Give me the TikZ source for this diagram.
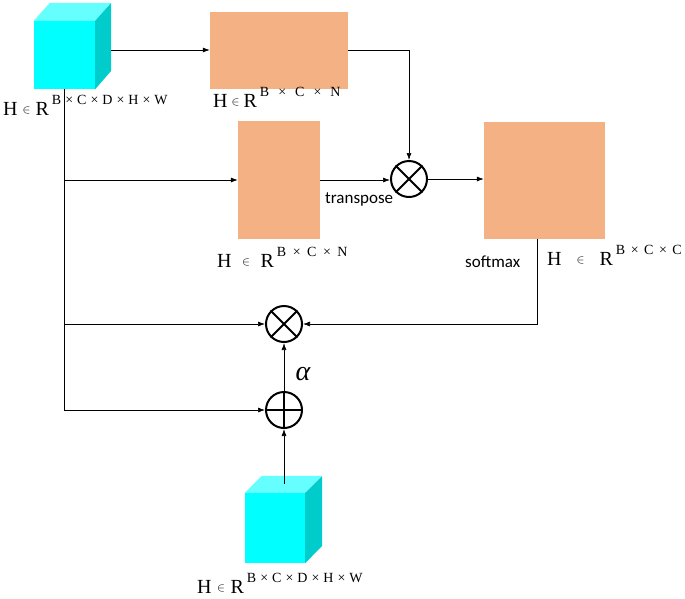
\documentclass[tikz,border=0pt]{standalone}
\usepackage{fontspec}
\setmainfont{Liberation Serif}
\newfontfamily\calibfont{Carlito}
\usetikzlibrary{arrows.meta,calc}
\newcommand{\tms}[1]{\hspace{#1}×\hspace{#1}}
\newcommand{\hlab}[2]{{\fontsize{20}{22}\selectfont H\hspace{#1}\raisebox{2pt}{\fontsize{12}{12}\selectfont$\in$}\hspace{#1}R}\hspace{3pt}\raisebox{11pt}{\fontsize{14}{15}\selectfont #2}}
\definecolor{cyanfront}{HTML}{00FFFF}
\definecolor{cyantop}{HTML}{66FFFF}
\definecolor{cyanside}{HTML}{00CCCC}
\definecolor{peach}{HTML}{F4B183}
\begin{document}
\begin{tikzpicture}[x=1pt,y=-1pt,
  cubefront/.style={fill=cyanfront,inner sep=0pt,draw=none},
  block/.style={fill=peach,inner sep=0pt,draw=none},
  op/.style={circle,draw,line width=2pt,minimum size=36pt,inner sep=0pt},
  arr/.style={-{Latex[length=7pt,width=5pt]},line width=0.7pt},
  lab/.style={anchor=base west,inner sep=0pt},
  word/.style={anchor=base west,inner sep=0pt,font=\calibfont\fontsize{17}{20}\selectfont}]
\useasboundingbox (0,0) rectangle (685,598);
% top cube
\node[cubefront,minimum width=61pt,minimum height=68pt] (c1) at (64.5,55) {};
\fill[cyantop] (c1.north west) -- ++(16,-18) -- ++(61,0) -- (c1.north east) -- cycle;
\fill[cyanside] (c1.north east) -- ++(16,-18) -- ++(0,68) -- (c1.south east) -- cycle;
\coordinate (c1r) at (111,50);
% bottom cube
\node[cubefront,minimum width=60pt,minimum height=70pt] (c2) at (275,528) {};
\fill[cyantop] (c2.north west) -- ++(17,-17) -- ++(60,0) -- (c2.north east) -- cycle;
\fill[cyanside] (c2.north east) -- ++(17,-17) -- ++(0,70) -- (c2.south east) -- cycle;
\coordinate (c2top) at (284,484);
% blocks
\node[block,minimum width=138pt,minimum height=77pt] (r1) at (279,50.5) {};
\node[block,minimum width=82pt,minimum height=118pt] (r2) at (279,180) {};
\node[block,minimum width=121pt,minimum height=117pt] (r3) at (544.5,180) {};
% operators
\node[op] (o1) at (409,179) {};
\node[op] (o2) at (284,324) {};
\node[op] (o3) at (284,410) {};
\draw[line width=2pt] (o1.north west) -- (o1.south east) (o1.north east) -- (o1.south west);
\draw[line width=2pt] (o2.north west) -- (o2.south east) (o2.north east) -- (o2.south west);
\draw[line width=2pt] (o3.north) -- (o3.south) (o3.west) -- (o3.east);
% connectors
\draw[arr] (c1r) -- (r1.west |- c1r);
\draw[arr] (r1.east) -| (o1.north);
\draw[arr] (c1.south |- r2.west) -- (r2.west);
\draw[arr] (r2.east) -- (r2.east -| o1.west);
\draw[arr] (o1.east) -- (o1.east -| r3.west);
\draw[arr] ([xshift=-7pt]r3.south) |- (o2.east);
\draw[arr] (c1.south |- o2.west) -- (o2.west);
\draw[arr] (c1.south) -- (c1.south |- o3.west) -- (o3.west);
\draw[arr] (o3.north) -- (o2.south);
\draw[arr] (c2top) -- (o3.south);
% labels
\node[lab] (l1) at (3,115) {\hlab{5pt}{B\tms{4pt}C\tms{4pt}D\tms{4pt}H\tms{4pt}W}};
\node[lab] (l2) at (213,107) {\hlab{4pt}{B\tms{9pt}C\tms{9pt}N}};
\node[lab] (l3) at (217,267) {\hlab{10.5pt}{B\tms{6.5pt}C\tms{6.5pt}N}};
\node[lab] (l4) at (547,265) {\hlab{15pt}{B\tms{5.5pt}C\tms{5.5pt}C}};
\node[lab] (l5) at (197,593) {\hlab{5.5pt}{B\tms{4pt}C\tms{4pt}D\tms{4pt}H\tms{4pt}W}};
\node[word] (tr) at (325,203) {transpose};
\node[word] (sm) at (465,267) {softmax};
\node[inner sep=0pt] (al) at (303,374) {\fontsize{28}{30}\selectfont\itshape α};
\end{tikzpicture}
\end{document}
